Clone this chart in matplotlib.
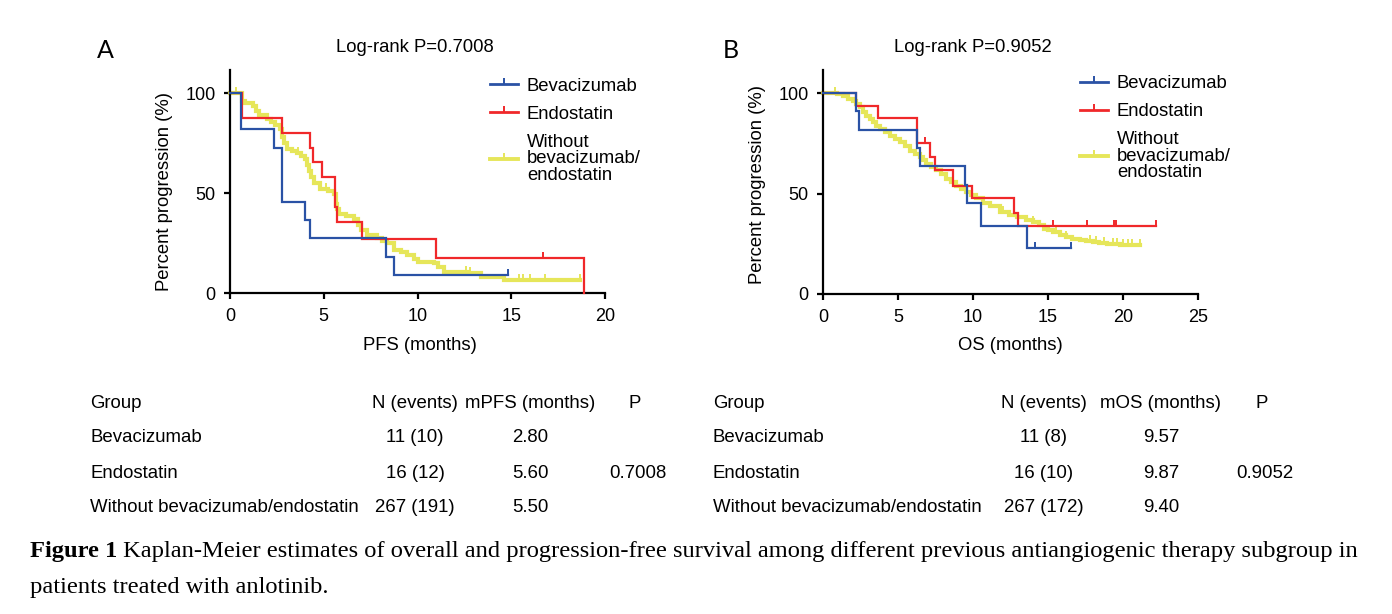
import matplotlib
matplotlib.use("Agg")
import matplotlib.pyplot as plt
from matplotlib.lines import Line2D

plt.rcParams['font.family'] = ['Liberation Sans', 'DejaVu Sans']

W, H = 1392, 614

# ---------------- data ----------------
groups = ["Bevacizumab", "Endostatin", "Without\nbevacizumab/\nendostatin"]
colors = ["#2a52a5", "#f0282a", "#e6e65a"]

# PFS (panel A)
pfs_bev_t = [0, 0.59, 2.32, 2.77, 3.98, 4.29, 8.34, 8.75]
pfs_bev_s = [100, 81.8, 72.7, 45.5, 36.4, 27.3, 18.2, 9.1]
pfs_bev_end = 14.8
pfs_bev_cens = [14.8]

pfs_endo_t = [0, 0.63, 2.77, 4.29, 4.41, 4.88, 5.6, 5.7, 7.05, 11.0, 18.9]
pfs_endo_s = [100, 87.5, 80, 72.5, 65.3, 58, 43, 35.5, 27, 17.7, 0]
pfs_endo_end = 18.9
pfs_endo_cens = [16.7]

pfs_wo_t = [0, 0.63, 0.8, 1.0, 1.25, 1.4, 1.52, 1.96, 2.2, 2.41, 2.68, 2.78, 2.86, 3.04,
            3.3, 3.57, 3.8, 4.02, 4.1, 4.2, 4.3, 4.46, 4.82, 5.2, 5.54, 5.63, 5.7, 5.8,
            6.2, 6.6, 6.8, 6.96, 7.32, 7.86, 8.1, 8.39, 8.75, 9.1, 9.46, 9.8, 10.0,
            10.9, 11.1, 11.4, 12.7, 13.4, 14.6]
pfs_wo_s = [100, 96, 95.2, 95, 93.4, 91, 89, 86.8, 85.5, 84, 81.8, 78, 75, 72,
            71, 70, 68.5, 67, 64, 61, 58, 55, 52, 51, 49.6, 44.6, 42, 39.7,
            38.5, 37, 34, 31.4, 29, 27.3, 26, 24.8, 21.5, 20.5, 19, 17, 15.7,
            14.9, 13, 10.7, 9.9, 7.9, 6.6]
pfs_wo_end = 18.66
pfs_wo_cens = [0.3, 3.6, 5.1, 12.6, 12.8, 15.4, 15.6, 16.0, 16.8, 18.66]

# OS (panel B)
os_bev_t = [0, 2.18, 2.38, 6.29, 6.44, 9.44, 9.6, 10.5, 13.6]
os_bev_s = [100, 90.9, 81.8, 72.7, 63.6, 54.5, 45.5, 34, 22.7]
os_bev_end = 16.5
os_bev_cens = [14.1, 16.5]

os_endo_t = [0, 2.22, 3.67, 6.29, 7.11, 7.44, 8.67, 9.93, 12.7, 13.0]
os_endo_s = [100, 93.75, 87.5, 75, 68.1, 61.5, 54, 47.8, 40.3, 33.9]
os_endo_end = 22.2
os_endo_cens = [6.78, 15.3, 17.6, 19.4, 19.55, 22.2]

os_wo_t = [0, 0.9, 1.33, 1.67, 2.0, 2.22, 2.44, 2.67, 2.89, 3.11, 3.33, 3.56, 3.78,
           4.11, 4.44, 4.78, 5.11, 5.44, 5.78, 6.11, 6.44, 6.67, 6.89, 7.22, 7.56,
           7.89, 8.22, 8.56, 8.89, 9.22, 9.56, 9.89, 10.22, 10.67, 11.1, 11.8,
           12.4, 12.9, 13.5, 14.0, 14.4, 14.7, 15.0, 15.36, 15.8, 16.2, 16.6,
           17.1, 17.5, 18.0, 18.4, 18.9, 19.8]
os_wo_s = [100, 99.5, 98.5, 97.3, 96.2, 94.5, 92.9, 90.8, 88.7, 87, 85.4, 83.7, 82.1,
           80.5, 78.8, 77.2, 75.5, 73.5, 71.4, 69.8, 68.1, 66.5, 64.8, 63.2, 61.5,
           59.5, 57.4, 55.7, 54, 52.4, 50.7, 49.2, 47.6, 45.5, 44, 40.8,
           39.5, 38.3, 37, 35.8, 34.2, 32.6, 31.7, 30.9, 29.6, 28.4, 27.6,
           26.8, 26.3, 25.9, 25.3, 24.8, 24.3]
os_wo_end = 21.1
os_wo_cens = [0.8, 12.0, 14.0, 15.5, 16.2, 17.8, 18.2, 18.7, 19.3, 19.6, 20.0, 20.3, 20.6, 21.1]

titles = ["Log-rank P=0.7008", "Log-rank P=0.9052"]
xlabels = ["PFS (months)", "OS (months)"]
ylabel = "Percent progression (%)"
xticksA = [0, 5, 10, 15, 20]
xticksB = [0, 5, 10, 15, 20, 25]
yticks = [0, 50, 100]

table_header_A = ["Group", "N (events)", "mPFS (months)", "P"]
table_header_B = ["Group", "N (events)", "mOS (months)", "P"]
table_groups = ["Bevacizumab", "Endostatin", "Without bevacizumab/endostatin"]
tableA_n = ["11 (10)", "16 (12)", "267 (191)"]
tableA_m = ["2.80", "5.60", "5.50"]
tableA_p = "0.7008"
tableB_n = ["11 (8)", "16 (10)", "267 (172)"]
tableB_m = ["9.57", "9.87", "9.40"]
tableB_p = "0.9052"

caption_bold = "Figure 1"
caption_l1 = "Kaplan-Meier estimates of overall and progression-free survival among different previous antiangiogenic therapy subgroup in"
caption_l2 = "patients treated with anlotinib."

# ---------------- drawing ----------------
TICK = [(0, 0), (0, 1)]

fig = plt.figure(figsize=(W / 100, H / 100), dpi=100)


def fx(px):
    return px / W


def fy(py):
    return 1 - py / H


def km(ax, t, s, end, cens, color, lw, z):
    tt = list(t) + [end]
    ss = list(s) + [s[-1]]
    ax.step(tt, ss, where='post', color=color, lw=lw, zorder=z, clip_on=False,
            solid_joinstyle='miter')
    cy = []
    for c in cens:
        lvl = s[0]
        for ti, si in zip(t, s):
            if ti <= c:
                lvl = si
        cy.append(lvl)
    ax.plot(cens, cy, linestyle='none', marker=TICK, ms=8, mew=1.4,
            color=color, zorder=z, clip_on=False)


def style(ax, xmax, xticks):
    ax.set_xlim(0, xmax)
    ax.set_ylim(0, 111.5)
    for sp in ['top', 'right']:
        ax.spines[sp].set_visible(False)
    for sp in ['left', 'bottom']:
        ax.spines[sp].set_linewidth(1.6)
        ax.spines[sp].set_color('black')
    ax.set_xticks(xticks)
    ax.set_yticks(yticks)
    ax.tick_params(direction='out', length=4.5, width=1.6, labelsize=13,
                   colors='black')
    ax.tick_params(axis='y', pad=6)
    ax.tick_params(axis='x', pad=6)


panels = [
    dict(rect=[fx(230), fy(293), fx(605) - fx(230), fy(70) - fy(293)], xmax=20, xticks=xticksA,
         curves=[(pfs_wo_t, pfs_wo_s, pfs_wo_end, pfs_wo_cens),
                 (pfs_endo_t, pfs_endo_s, pfs_endo_end, pfs_endo_cens),
                 (pfs_bev_t, pfs_bev_s, pfs_bev_end, pfs_bev_cens)],
         leg=(0.693, 0.965), ylab=(-0.152, 0.455), xlab=(0.507, -0.197)),
    dict(rect=[fx(823), fy(294), fx(1198) - fx(823), fy(70) - fy(294)], xmax=25, xticks=xticksB,
         curves=[(os_wo_t, os_wo_s, os_wo_end, os_wo_cens),
                 (os_endo_t, os_endo_s, os_endo_end, os_endo_cens),
                 (os_bev_t, os_bev_s, os_bev_end, os_bev_cens)],
         leg=(0.685, 0.977), ylab=(-0.152, 0.487), xlab=(0.501, -0.192)),
]

for i, p in enumerate(panels):
    ax = fig.add_axes(p['rect'])
    style(ax, p['xmax'], p['xticks'])
    cw, ce, cb = p['curves']
    km(ax, *cw, colors[2], 3.0, 2)
    km(ax, *ce, colors[1], 1.6, 3)
    km(ax, *cb, colors[0], 1.6, 4)
    handles = [Line2D([], [], color=colors[k], lw=2.0 if k < 2 else 2.8, marker=TICK,
                      ms=8, mew=1.4) for k in range(3)]
    leg = ax.legend(handles, groups, loc='upper left', bbox_to_anchor=p['leg'],
                    frameon=False, fontsize=13.3, handlelength=1.5, handletextpad=0.5,
                    labelspacing=0.6, borderaxespad=0, borderpad=0, numpoints=1)
    for t in leg.get_texts():
        t.set_linespacing(0.95)
    ax.set_ylabel(ylabel, fontsize=13.3)
    ax.yaxis.set_label_coords(*p['ylab'])
    ax.set_xlabel(xlabels[i], fontsize=13.3)
    ax.xaxis.set_label_coords(*p['xlab'])

# titles & panel letters
fig.text(fx(415), fy(48), titles[0], ha='center', va='center', fontsize=13.3)
fig.text(fx(973), fy(48), titles[1], ha='center', va='center', fontsize=13.3)
fig.text(fx(105), fy(50), "A", ha='center', va='center', fontsize=18,
         family=['Lato', 'DejaVu Sans'])
fig.text(fx(731), fy(50), "B", ha='center', va='center', fontsize=18,
         family=['Lato', 'DejaVu Sans'])

# tables
rows_y = [404, 438, 473, 508]


def table(x0, cols, header, n, m, pval):
    fs = 13.4
    fig.text(fx(x0), fy(rows_y[0]), header[0], ha='left', va='center', fontsize=fs)
    for k in range(1, 4):
        fig.text(fx(cols[k - 1]), fy(rows_y[0]), header[k], ha='center', va='center', fontsize=fs)
    for r in range(3):
        y = fy(rows_y[r + 1])
        fig.text(fx(x0), y, table_groups[r], ha='left', va='center', fontsize=fs)
        fig.text(fx(cols[0]), y, n[r], ha='center', va='center', fontsize=fs)
        fig.text(fx(cols[1]), y, m[r], ha='center', va='center', fontsize=fs)
    fig.text(fx(cols[2] + 3), fy(rows_y[2]), pval, ha='center', va='center', fontsize=fs)


table(90, [415, 530, 635], table_header_A, tableA_n, tableA_m, tableA_p)
table(713, [1044, 1161, 1262], table_header_B, tableB_n, tableB_m, tableB_p)

# caption (fit line 1 to its width)
serif = ['Liberation Serif', 'DejaVu Serif']
renderer = fig.canvas.get_renderer()
fs0 = 15.0
tb = fig.text(fx(30), fy(552), caption_bold, ha='left', va='center', fontsize=fs0,
              weight='bold', family=serif)
tr = fig.text(0, fy(552), " " + caption_l1, ha='left', va='center', fontsize=fs0, family=serif)
wb = tb.get_window_extent(renderer).width
wr = tr.get_window_extent(renderer).width
scale = (1362 - 30) / (wb + wr)
fs = fs0 * scale
tb.set_fontsize(fs)
wb = tb.get_window_extent(renderer).width
tr.set_fontsize(fs)
tr.set_x(fx(30 + wb))
fig.text(fx(30), fy(587), caption_l2, ha='left', va='center', fontsize=fs, family=serif)

fig.savefig("out.png", dpi=100)
